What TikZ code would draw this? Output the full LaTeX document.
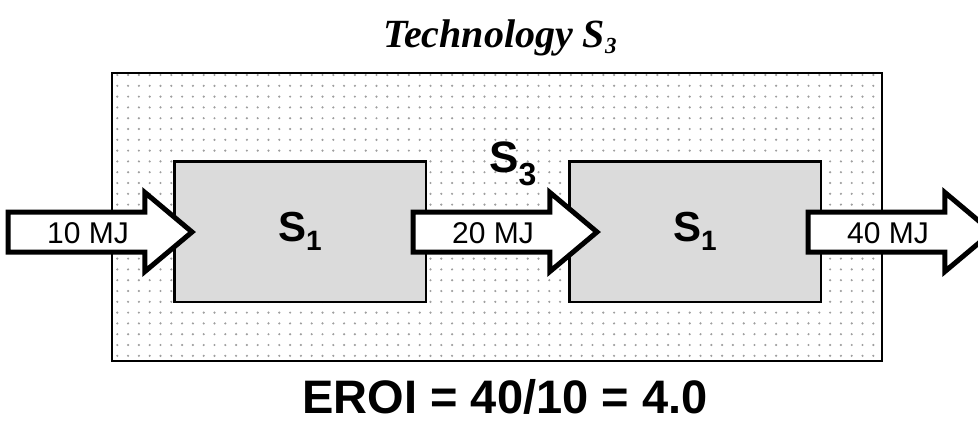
\documentclass[tikz,border=0pt]{standalone}
\usepackage{fontspec}
\setmainfont{Liberation Serif}
\setsansfont{Liberation Sans}
\usetikzlibrary{shapes.arrows}

\begin{document}
\begin{tikzpicture}[x=1pt, y=-1pt, font=\sffamily,
    unit/.style={draw=black, line width=2.5pt, fill=black!14, minimum width=251.5pt,
        minimum height=140.5pt, inner sep=0pt, font=\sffamily\bfseries\fontsize{42}{42}\selectfont},
    flow/.style={single arrow, draw=black, fill=white, line width=5pt, minimum height=184pt,
        single arrow head extend=19.5pt, single arrow tip angle=80, inner sep=0pt,
        text height=28.5pt, text depth=6.5pt, anchor=tail,
        font=\sffamily\fontsize{30}{30}\selectfont},
    dot/.style={fill=black!38},
]
    \useasboundingbox (0,0) rectangle (978,421);

    % ===== Title =====
    \node[anchor=base, inner sep=0pt, font=\rmfamily\bfseries\itshape\fontsize{40}{40}\selectfont] (title)
        at (500,47) {Technology S\raisebox{-6pt}{\fontsize{23}{23}\selectfont 3}};

    % ===== Boundary of S_3 (dotted fill) =====
    \foreach \i in {0,...,70}
        \foreach \j in {0,...,26}
            \fill[dot] (117.3+10.8*\i, 75+10.8*\j) circle (1.2pt);
    \draw[line width=2.5pt] (112,73) rectangle (882,361);

    % ===== The two S_1 units =====
    \node[unit] (s1a) at (300,231.5) {S\raisebox{-9pt}{\fontsize{28}{28}\selectfont 1}};
    \node[unit] (s1b) at (695,231.5) {S\raisebox{-9pt}{\fontsize{28}{28}\selectfont 1}};

    % ===== Energy flows =====
    \node[flow] (in) at (5.5,232) {10 MJ};
    \node[flow] (mid) at (410.5,232) {20 MJ};
    \node[flow] (out) at (805.5,232) {40 MJ};

    % ===== Labels =====
    \node[anchor=base west, inner sep=0pt, font=\sffamily\bfseries\fontsize{44}{44}\selectfont] (s3)
        at (489,172) {S\raisebox{-13pt}{\fontsize{32}{32}\selectfont 3}};
    \node[anchor=base, inner sep=0pt, font=\sffamily\bfseries\fontsize{47}{47}\selectfont] (eroi)
        at (505,413) {EROI = 40/10 = 4.0};

\end{tikzpicture}
\end{document}
